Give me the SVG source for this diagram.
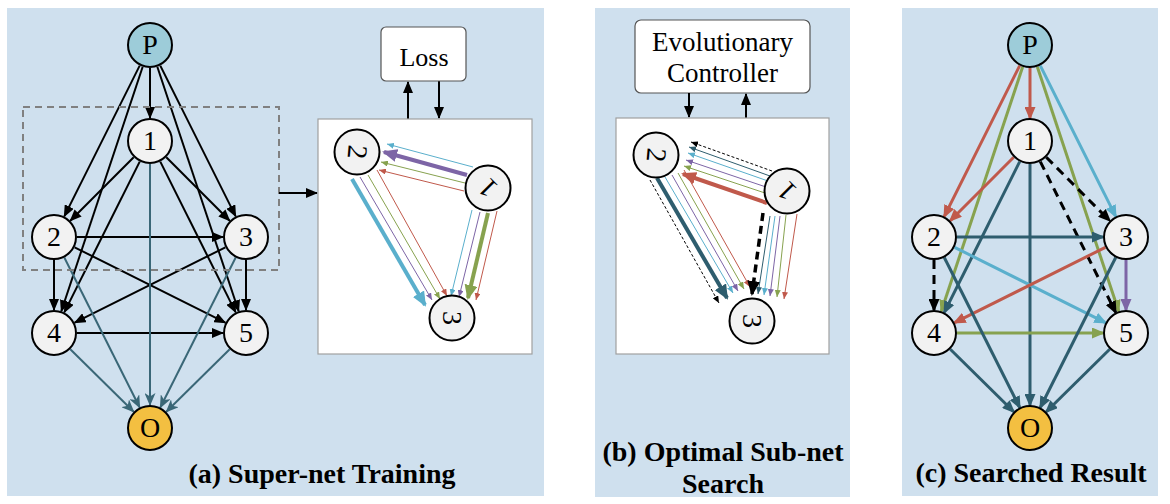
<svg xmlns="http://www.w3.org/2000/svg" width="1170" height="504" viewBox="0 0 1170 504">
<style>
.bg{fill:#cfe0ee}
.node{fill:#f2f2f2;stroke:#000;stroke-width:2}
.lbl{font-family:"Liberation Serif","Times New Roman",serif;font-size:28px;text-anchor:middle;fill:#000}
.cap{font-family:"Liberation Serif","Times New Roman",serif;font-weight:bold;font-size:28px;text-anchor:middle;fill:#000}
.box{fill:#fff;stroke:#555;stroke-width:1.2}
.inset{fill:#fff;stroke:#a0a0a0;stroke-width:1.2}
.k{stroke:#000;stroke-width:2;fill:none;marker-end:url(#mA)}
.ta{stroke:#3a6777;stroke-width:2;fill:none;marker-end:url(#mAt)}
.c3{stroke-width:3;fill:none}
.th{stroke-width:1;fill:none}
.tk{stroke-width:4;fill:none}
</style>
<defs>
<marker id="mA" markerUnits="userSpaceOnUse" markerWidth="12" markerHeight="10" refX="11" refY="5" orient="auto"><path d="M0,0 L12,5 L0,10 z" fill="#000"/></marker>
<marker id="mAt" markerUnits="userSpaceOnUse" markerWidth="13" markerHeight="11" refX="12" refY="5.5" orient="auto"><path d="M0,0 L13,5.5 L0,11 L3.5,5.5 z" fill="#3a6777"/></marker>
<marker id="cR" markerUnits="userSpaceOnUse" markerWidth="13" markerHeight="11" refX="11" refY="5.5" orient="auto"><path d="M0,0 L13,5.5 L0,11 z" fill="#c0594b"/></marker>
<marker id="cG" markerUnits="userSpaceOnUse" markerWidth="13" markerHeight="11" refX="11" refY="5.5" orient="auto"><path d="M0,0 L13,5.5 L0,11 z" fill="#87a24f"/></marker>
<marker id="cC" markerUnits="userSpaceOnUse" markerWidth="13" markerHeight="11" refX="11" refY="5.5" orient="auto"><path d="M0,0 L13,5.5 L0,11 z" fill="#5aafcc"/></marker>
<marker id="cP" markerUnits="userSpaceOnUse" markerWidth="13" markerHeight="11" refX="11" refY="5.5" orient="auto"><path d="M0,0 L13,5.5 L0,11 z" fill="#7d65a6"/></marker>
<marker id="cT" markerUnits="userSpaceOnUse" markerWidth="13" markerHeight="11" refX="11" refY="5.5" orient="auto"><path d="M0,0 L13,5.5 L0,11 z" fill="#2e5d6e"/></marker>
<marker id="cK" markerUnits="userSpaceOnUse" markerWidth="13" markerHeight="11" refX="11" refY="5.5" orient="auto"><path d="M0,0 L13,5.5 L0,11 z" fill="#000"/></marker>
<marker id="sR" markerUnits="userSpaceOnUse" markerWidth="7" markerHeight="6" refX="7" refY="3" orient="auto"><path d="M0,0 L7,3 L0,6 z" fill="#c0594b"/></marker>
<marker id="sG" markerUnits="userSpaceOnUse" markerWidth="7" markerHeight="6" refX="7" refY="3" orient="auto"><path d="M0,0 L7,3 L0,6 z" fill="#87a24f"/></marker>
<marker id="sC" markerUnits="userSpaceOnUse" markerWidth="7" markerHeight="6" refX="7" refY="3" orient="auto"><path d="M0,0 L7,3 L0,6 z" fill="#5aafcc"/></marker>
<marker id="sP" markerUnits="userSpaceOnUse" markerWidth="7" markerHeight="6" refX="7" refY="3" orient="auto"><path d="M0,0 L7,3 L0,6 z" fill="#7d65a6"/></marker>
<marker id="sT" markerUnits="userSpaceOnUse" markerWidth="7" markerHeight="6" refX="7" refY="3" orient="auto"><path d="M0,0 L7,3 L0,6 z" fill="#2e5d6e"/></marker>
<marker id="sK" markerUnits="userSpaceOnUse" markerWidth="7" markerHeight="6" refX="7" refY="3" orient="auto"><path d="M0,0 L7,3 L0,6 z" fill="#000"/></marker>
<marker id="bP" markerUnits="userSpaceOnUse" markerWidth="15" markerHeight="13" refX="13" refY="6.5" orient="auto"><path d="M0,0 L15,6.5 L0,13 z" fill="#7d65a6"/></marker>
<marker id="bC" markerUnits="userSpaceOnUse" markerWidth="15" markerHeight="13" refX="13" refY="6.5" orient="auto"><path d="M0,0 L15,6.5 L0,13 z" fill="#5aafcc"/></marker>
<marker id="bG" markerUnits="userSpaceOnUse" markerWidth="15" markerHeight="13" refX="13" refY="6.5" orient="auto"><path d="M0,0 L15,6.5 L0,13 z" fill="#87a24f"/></marker>
<marker id="bR" markerUnits="userSpaceOnUse" markerWidth="15" markerHeight="13" refX="13" refY="6.5" orient="auto"><path d="M0,0 L15,6.5 L0,13 z" fill="#c0594b"/></marker>
<marker id="bT" markerUnits="userSpaceOnUse" markerWidth="15" markerHeight="13" refX="13" refY="6.5" orient="auto"><path d="M0,0 L15,6.5 L0,13 z" fill="#2e5d6e"/></marker>
<marker id="bK" markerUnits="userSpaceOnUse" markerWidth="15" markerHeight="13" refX="13" refY="6.5" orient="auto"><path d="M0,0 L15,6.5 L0,13 z" fill="#000"/></marker>
</defs>

<rect width="1170" height="504" fill="#fff"/>
<g id="panel-backgrounds">
<rect class="bg" x="7" y="8" width="537" height="488"/>
<rect class="bg" x="595" y="8" width="255" height="489"/>
<rect class="bg" x="902" y="8" width="256" height="488"/>
</g>

<!-- Panel (a) connectors -->
<g id="connectors-a">
<path class="k" d="M150,68 L150,118"/>
<path class="k" d="M139.7,65.6 L64.3,216.4"/>
<path class="k" d="M160.3,65.6 L235.7,216.4"/>
<path class="k" d="M142.7,66.8 L61.3,311.2"/>
<path class="k" d="M157.3,66.8 L238.7,311.2"/>
<path class="k" d="M133.7,157.3 L70.3,220.7"/>
<path class="k" d="M166.3,157.3 L229.7,220.7"/>
<path class="k" d="M139.7,161.6 L64.3,312.4"/>
<path class="k" d="M160.3,161.6 L235.7,312.4"/>
<path class="k" d="M77,237 L223,237"/>
<path class="k" d="M54,260 L54,310"/>
<path class="k" d="M246,260 L246,310"/>
<path class="k" d="M74.6,247.3 L225.4,322.7"/>
<path class="k" d="M225.4,247.3 L74.6,322.7"/>
<path class="k" d="M77,333 L223,333"/>
<path class="ta" d="M150,164 L150,405"/>
<path class="ta" d="M64.3,257.5 L139.7,407.5"/>
<path class="ta" d="M235.7,257.5 L160.3,407.5"/>
<path class="ta" d="M70.3,349.2 L133.7,411.8"/>
<path class="ta" d="M229.7,349.2 L166.3,411.8"/>
<rect x="23" y="107" width="256" height="163" fill="none" stroke="#808080" stroke-width="2" stroke-dasharray="7,5"/>
<path class="k" d="M279,193 L317,193"/>
<path class="k" d="M408,119 L408,82"/>
<path class="k" d="M439,81 L439,118"/>
</g>

<g id="nodes-a">
<g id="a-P"><circle cx="150" cy="45" r="22" class="node" style="fill:#9dccd9"/><text class="lbl" x="150" y="54">P</text></g>
<g id="a-1"><circle cx="150" cy="141" r="22" class="node"/><text class="lbl" x="150" y="150">1</text></g>
<g id="a-2"><circle cx="54" cy="237" r="22" class="node"/><text class="lbl" x="54" y="246">2</text></g>
<g id="a-3"><circle cx="246" cy="237" r="22" class="node"/><text class="lbl" x="246" y="246">3</text></g>
<g id="a-4"><circle cx="54" cy="333" r="22" class="node"/><text class="lbl" x="54" y="342">4</text></g>
<g id="a-5"><circle cx="246" cy="333" r="22" class="node"/><text class="lbl" x="246" y="342">5</text></g>
<g id="a-O"><circle cx="150" cy="428" r="22" class="node" style="fill:#f3bf41"/><text class="lbl" x="150" y="437">O</text></g>
</g>

<g id="a-loss"><rect class="box" x="381" y="27" width="85" height="54" rx="5"/><text class="lbl" x="424" y="66" style="font-size:26px">Loss</text></g>

<g id="a-inset">
<rect class="inset" x="318" y="119" width="214" height="235"/>
<g id="a-inset-edges">
<path class="th" stroke="#5aafcc" marker-end="url(#sC)" d="M473,167 L387,144"/>
<path class="tk" stroke="#7d65a6" marker-end="url(#bP)" d="M467,175 L384,152"/>
<path class="th" stroke="#87a24f" marker-end="url(#sG)" d="M465,183 L381,162"/>
<path class="th" stroke="#c0594b" marker-end="url(#sR)" d="M464,191 L379,170"/>
<path class="tk" stroke="#5aafcc" marker-end="url(#bC)" d="M352,179 L425,305"/>
<path class="th" stroke="#7d65a6" marker-end="url(#sP)" d="M360,177 L432,300"/>
<path class="th" stroke="#87a24f" marker-end="url(#sG)" d="M368,175 L440,299"/>
<path class="th" stroke="#c0594b" marker-end="url(#sR)" d="M377,170 L447,296"/>
<path class="th" stroke="#5aafcc" marker-end="url(#sC)" d="M472,210 L451,296"/>
<path class="th" stroke="#7d65a6" marker-end="url(#sP)" d="M480,212 L459,297"/>
<path class="tk" stroke="#87a24f" marker-end="url(#bG)" d="M488,213 L468,298"/>
<path class="th" stroke="#c0594b" marker-end="url(#sR)" d="M497,211 L476,300"/>
</g>
<g id="a-i2"><circle cx="357" cy="152" r="22.5" class="node"/><text class="lbl" transform="translate(357,152) rotate(95)" x="0" y="9">2</text></g>
<g id="a-i1"><circle cx="488" cy="188" r="22.5" class="node"/><text class="lbl" transform="translate(488,188) rotate(225)" x="0" y="9">1</text></g>
<g id="a-i3"><circle cx="452" cy="318" r="22.5" class="node"/><text class="lbl" transform="translate(452,318) rotate(90)" x="0" y="9">3</text></g>
</g>
<text class="cap" x="322" y="483">(a) Super-net Training</text>

<!-- Panel (b) -->
<g id="b-controller"><rect class="box" x="635" y="20" width="175" height="73" rx="6"/><text class="lbl" x="722.5" y="51" style="font-size:27px">Evolutionary</text><text class="lbl" x="722.5" y="82" style="font-size:27px">Controller</text></g>
<g id="connectors-b">
<path class="k" d="M689,93 L689,117"/>
<path class="k" d="M746,118 L746,94"/>
</g>
<g id="b-inset">
<rect class="inset" x="616" y="118" width="213" height="236"/>
<g id="b-inset-edges">
<path class="th" stroke="#000" stroke-dasharray="3,2" marker-end="url(#sK)" d="M772,171 L691,142"/>
<path class="th" stroke="#2e5d6e" marker-end="url(#sT)" d="M770,176 L689,147"/>
<path class="th" stroke="#5aafcc" marker-end="url(#sC)" d="M768,181 L688,153"/>
<path class="th" stroke="#7d65a6" marker-end="url(#sP)" d="M766,187 L686,160"/>
<path class="th" stroke="#87a24f" marker-end="url(#sG)" d="M765,193 L684,166"/>
<path class="tk" stroke="#c0594b" marker-end="url(#bR)" d="M767,203 L683,174"/>
<path class="th" stroke="#000" stroke-dasharray="3,2" marker-end="url(#sK)" d="M650,180 L719,303"/>
<path class="tk" stroke="#2e5d6e" marker-end="url(#bT)" d="M657,178 L727,298"/>
<path class="th" stroke="#5aafcc" marker-end="url(#sC)" d="M665,177 L733,293"/>
<path class="th" stroke="#7d65a6" marker-end="url(#sP)" d="M672,175 L738,291"/>
<path class="th" stroke="#87a24f" marker-end="url(#sG)" d="M678,173 L744,289"/>
<path class="th" stroke="#c0594b" marker-end="url(#sR)" d="M684,170 L750,287"/>
<path stroke="#000" stroke-width="3.5" fill="none" stroke-dasharray="8,5" marker-end="url(#bK)" d="M763,213 L752,294"/>
<path class="th" stroke="#2e5d6e" marker-end="url(#sT)" d="M770,216 L758,294"/>
<path class="th" stroke="#5aafcc" marker-end="url(#sC)" d="M775,216 L764,295"/>
<path class="th" stroke="#7d65a6" marker-end="url(#sP)" d="M780,216 L770,296"/>
<path class="th" stroke="#87a24f" marker-end="url(#sG)" d="M786,215 L777,297"/>
<path class="th" stroke="#c0594b" marker-end="url(#sR)" d="M797,214 L784,299"/>
</g>
<g id="b-i2"><circle cx="656" cy="155" r="22.5" class="node"/><text class="lbl" transform="translate(656,155) rotate(95)" x="0" y="9">2</text></g>
<g id="b-i1"><circle cx="787" cy="191" r="22.5" class="node"/><text class="lbl" transform="translate(787,191) rotate(225)" x="0" y="9">1</text></g>
<g id="b-i3"><circle cx="752" cy="321" r="22.5" class="node"/><text class="lbl" transform="translate(752,321) rotate(90)" x="0" y="9">3</text></g>
</g>
<text class="cap" x="723" y="461">(b) Optimal Sub-net</text>
<text class="cap" x="723" y="493">Search</text>

<!-- Panel (c) -->
<g id="connectors-c" transform="translate(880,0)">
<path class="c3" stroke="#c0594b" marker-end="url(#cR)" d="M150,68 L150,118"/>
<path class="c3" stroke="#c0594b" marker-end="url(#cR)" d="M139.7,65.6 L64.3,216.4"/>
<path class="c3" stroke="#5aafcc" marker-end="url(#cC)" d="M160.3,65.6 L235.7,216.4"/>
<path class="c3" stroke="#87a24f" marker-end="url(#cG)" d="M142.7,66.8 L61.3,311.2"/>
<path class="c3" stroke="#87a24f" marker-end="url(#cG)" d="M157.3,66.8 L238.7,311.2"/>
<path class="c3" stroke="#c0594b" marker-end="url(#cR)" d="M133.7,157.3 L70.3,220.7"/>
<path class="c3" stroke="#000" stroke-dasharray="9,6" marker-end="url(#cK)" d="M166.3,157.3 L229.7,220.7"/>
<path class="c3" stroke="#2e5d6e" marker-end="url(#cT)" d="M139.7,161.6 L64.3,312.4"/>
<path class="c3" stroke="#000" stroke-dasharray="9,6" marker-end="url(#cK)" d="M160.3,161.6 L235.7,312.4"/>
<path class="c3" stroke="#2e5d6e" marker-end="url(#cT)" d="M150,164 L150,405"/>
<path class="c3" stroke="#2e5d6e" marker-end="url(#cT)" d="M77,237 L223,237"/>
<path class="c3" stroke="#000" stroke-dasharray="9,6" marker-end="url(#cK)" d="M54,260 L54,310"/>
<path class="c3" stroke="#7d65a6" marker-end="url(#cP)" d="M246,260 L246,310"/>
<path class="c3" stroke="#5aafcc" marker-end="url(#cC)" d="M74.6,247.3 L225.4,322.7"/>
<path class="c3" stroke="#c0594b" marker-end="url(#cR)" d="M225.4,247.3 L74.6,322.7"/>
<path class="c3" stroke="#87a24f" marker-end="url(#cG)" d="M77,333 L223,333"/>
<path class="c3" stroke="#2e5d6e" marker-end="url(#cT)" d="M64.3,257.5 L139.7,407.5"/>
<path class="c3" stroke="#2e5d6e" marker-end="url(#cT)" d="M235.7,257.5 L160.3,407.5"/>
<path class="c3" stroke="#2e5d6e" marker-end="url(#cT)" d="M70.3,349.2 L133.7,411.8"/>
<path class="c3" stroke="#2e5d6e" marker-end="url(#cT)" d="M229.7,349.2 L166.3,411.8"/>
</g>
<g id="nodes-c" transform="translate(880,0)">
<g id="c-P"><circle cx="150" cy="45" r="22" class="node" style="fill:#9dccd9"/><text class="lbl" x="150" y="54">P</text></g>
<g id="c-1"><circle cx="150" cy="141" r="22" class="node"/><text class="lbl" x="150" y="150">1</text></g>
<g id="c-2"><circle cx="54" cy="237" r="22" class="node"/><text class="lbl" x="54" y="246">2</text></g>
<g id="c-3"><circle cx="246" cy="237" r="22" class="node"/><text class="lbl" x="246" y="246">3</text></g>
<g id="c-4"><circle cx="54" cy="333" r="22" class="node"/><text class="lbl" x="54" y="342">4</text></g>
<g id="c-5"><circle cx="246" cy="333" r="22" class="node"/><text class="lbl" x="246" y="342">5</text></g>
<g id="c-O"><circle cx="150" cy="428" r="22" class="node" style="fill:#f3bf41"/><text class="lbl" x="150" y="437">O</text></g>
</g>
<text class="cap" x="1031" y="482">(c) Searched Result</text>
</svg>
